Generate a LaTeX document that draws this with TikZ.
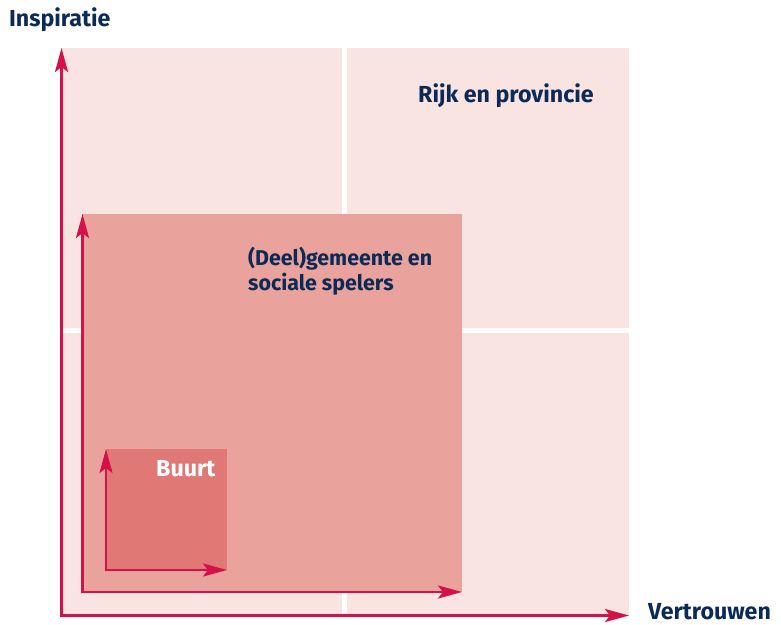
\documentclass[tikz,border=0pt]{standalone}
\usepackage{fontspec}
\setmainfont{Fira Sans}
\usetikzlibrary{arrows.meta}
\definecolor{palepink}{RGB}{249,228,226}
\definecolor{midpink}{RGB}{234,162,156}
\definecolor{deeppink}{RGB}{224,120,118}
\definecolor{axisred}{RGB}{213,18,72}
\definecolor{navy}{RGB}{12,42,86}
\tikzset{
  axis/.style={draw=axisred, line width=2.6pt, -{Stealth[length=24pt,width=13pt,inset=5pt]}},
  lbl/.style={anchor=base west, inner sep=0pt, font=\fontsize{23.2pt}{27pt}\selectfont\bfseries, text=navy},
  lblsm/.style={lbl, font=\fontsize{21.4pt}{25pt}\selectfont\bfseries},
  quad/.style={fill=palepink, draw=none},
}
\begin{document}
\begin{tikzpicture}[x=1pt,y=-1pt]
\useasboundingbox (0,0) rectangle (781,624);
% outer quadrants
\fill[quad] (61,48) rectangle (342,328);
\fill[quad] (347,48) rectangle (629,328);
\fill[quad] (61,333) rectangle (342,615);
\fill[quad] (347,333) rectangle (629,615);
% middle and inner boxes
\fill[midpink] (82,214) rectangle (462,592);
\fill[deeppink] (106,449) rectangle (227,570);
% corner coordinates
\coordinate (o0) at (61.5,615.5);
\coordinate (oy) at (61.5,48);
\coordinate (ox) at (629,615.5);
\coordinate (m0) at (82.5,592);
\coordinate (my) at (82.5,214);
\coordinate (mx) at (462,592);
\coordinate (i0) at (106,570);
\coordinate (iy) at (106,449);
\coordinate (ix) at (227,570);
% axes
\draw[axis] ([xshift=-1.3pt]o0) -- (ox);
\draw[axis] ([yshift=-1.3pt]o0) -- (oy);
\draw[axis] ([xshift=-1.3pt]m0) -- (mx);
\draw[axis] ([yshift=-1.3pt]m0) -- (my);
\draw[axis] ([xshift=-1.3pt]i0) -- (ix);
\draw[axis] ([yshift=-1.3pt]i0) -- (iy);
% labels
\node[lbl] (insp) at (9,26) {Inspiratie};
\node[lbl] (vert) at (648,619) {Vertrouwen};
\node[lbl] (rijk) at (418,102) {Rijk en provincie};
\node[lblsm] (gem) at (248,265) {(Deel)gemeente en};
\node[lblsm] (soc) at (248,290) {sociale spelers};
\node[lbl, text=white] (buurt) at (156,476) {Buurt};
\end{tikzpicture}
\end{document}
